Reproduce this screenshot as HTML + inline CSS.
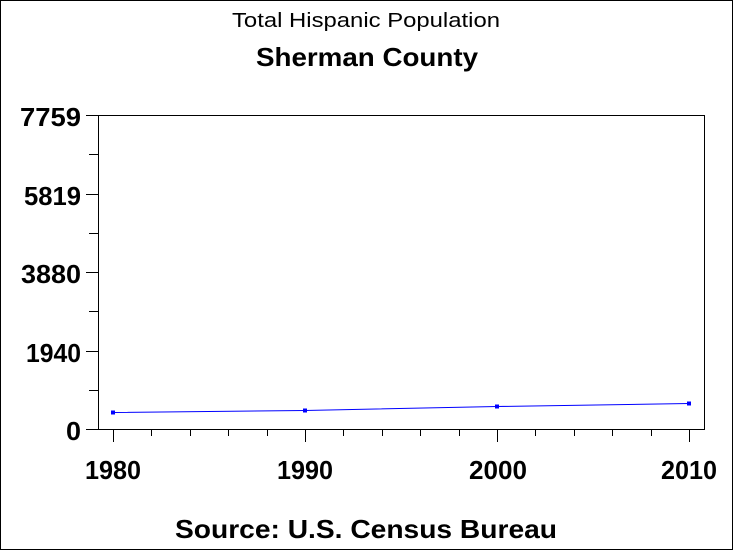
<!DOCTYPE html>
<html><head><style>
body{margin:0;background:#fff}
svg{display:block}
text{font-family:"Liberation Sans",Arial,sans-serif;fill:#000}
</style></head><body>
<svg width="733" height="550" viewBox="0 0 733 550">
<rect x="0.5" y="0.5" width="732" height="549" fill="#fff" stroke="#000"/>
<text x="232" y="27" font-size="20" textLength="268" lengthAdjust="spacingAndGlyphs">Total Hispanic Population</text>
<text x="256" y="66" font-size="26" font-weight="bold" textLength="222" lengthAdjust="spacingAndGlyphs">Sherman County</text>
<rect x="98.5" y="115.5" width="606" height="314" fill="none" stroke="#000"/>
<g stroke="#000">
<line x1="86" y1="115.5" x2="98" y2="115.5"/>
<line x1="86" y1="194.5" x2="98" y2="194.5"/>
<line x1="86" y1="272.5" x2="98" y2="272.5"/>
<line x1="86" y1="351.5" x2="98" y2="351.5"/>
<line x1="86" y1="429.5" x2="98" y2="429.5"/>
<line x1="89" y1="154.5" x2="98" y2="154.5"/>
<line x1="89" y1="233.5" x2="98" y2="233.5"/>
<line x1="89" y1="311.5" x2="98" y2="311.5"/>
<line x1="89" y1="390.5" x2="98" y2="390.5"/>
<line x1="113.5" y1="430" x2="113.5" y2="442"/>
<line x1="305.5" y1="430" x2="305.5" y2="442"/>
<line x1="497.5" y1="430" x2="497.5" y2="442"/>
<line x1="689.5" y1="430" x2="689.5" y2="442"/>
<line x1="151.5" y1="430" x2="151.5" y2="436"/>
<line x1="190.5" y1="430" x2="190.5" y2="436"/>
<line x1="228.5" y1="430" x2="228.5" y2="436"/>
<line x1="267.5" y1="430" x2="267.5" y2="436"/>
<line x1="343.5" y1="430" x2="343.5" y2="436"/>
<line x1="382.5" y1="430" x2="382.5" y2="436"/>
<line x1="420.5" y1="430" x2="420.5" y2="436"/>
<line x1="459.5" y1="430" x2="459.5" y2="436"/>
<line x1="535.5" y1="430" x2="535.5" y2="436"/>
<line x1="574.5" y1="430" x2="574.5" y2="436"/>
<line x1="612.5" y1="430" x2="612.5" y2="436"/>
<line x1="651.5" y1="430" x2="651.5" y2="436"/>
</g>
<g font-size="26" font-weight="bold">
<text x="20" y="126" textLength="61" lengthAdjust="spacingAndGlyphs">7759</text>
<text x="24" y="205" textLength="57" lengthAdjust="spacingAndGlyphs">5819</text>
<text x="21" y="283" textLength="60" lengthAdjust="spacingAndGlyphs">3880</text>
<text x="26" y="362" textLength="55" lengthAdjust="spacingAndGlyphs">1940</text>
<text x="66" y="440" textLength="15" lengthAdjust="spacingAndGlyphs">0</text>
</g>
<g font-size="26" font-weight="bold">
<text x="85" y="479" textLength="56" lengthAdjust="spacingAndGlyphs">1980</text>
<text x="277" y="479" textLength="56" lengthAdjust="spacingAndGlyphs">1990</text>
<text x="469" y="479" textLength="58" lengthAdjust="spacingAndGlyphs">2000</text>
<text x="661" y="479" textLength="56" lengthAdjust="spacingAndGlyphs">2010</text>
</g>
<polyline points="113,412.5 305,410.5 497,406.5 689,403.5" fill="none" stroke="#0000ff" stroke-width="1"/>
<g fill="#0000ff">
<rect x="111" y="410.5" width="4" height="4"/>
<rect x="303" y="408.5" width="4" height="4"/>
<rect x="495" y="404.5" width="4" height="4"/>
<rect x="687" y="401.5" width="4" height="4"/>
</g>
<text x="175" y="538" font-size="26" font-weight="bold" textLength="382" lengthAdjust="spacingAndGlyphs">Source: U.S. Census Bureau</text>
</svg>
</body></html>
